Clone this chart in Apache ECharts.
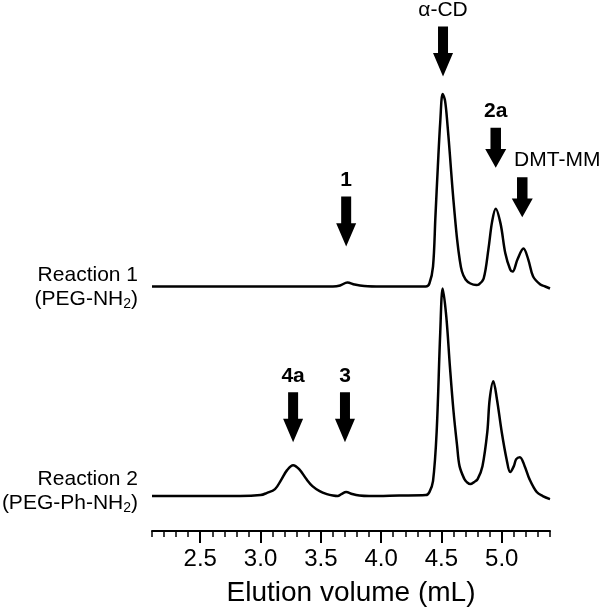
<!DOCTYPE html>
<html>
<head>
<meta charset="utf-8">
<script src="https://cdn.jsdelivr.net/npm/echarts@6/dist/echarts.min.js"></script>
<style>
  html, body { margin: 0; padding: 0; background: #fff; }
  #chart { width: 605px; height: 612px; }
</style>
</head>
<body>
<div id="chart"></div>
<script>
// Reaction 1 (PEG-NH2): elution volume (mL) / detector signal (a.u.)
const reaction1Vol = [2.10, 2.50, 3.00, 3.40, 3.60, 3.66, 3.72, 3.78, 3.86, 4.00, 4.20, 4.37, 4.40, 4.43, 4.45, 4.47, 4.49, 4.51, 4.53, 4.55, 4.57, 4.59, 4.61, 4.63, 4.65, 4.67, 4.70, 4.74, 4.79, 4.81, 4.85, 4.89, 4.92, 4.95, 4.99, 5.03, 5.07, 5.09, 5.13, 5.18, 5.22, 5.26, 5.32, 5.36, 5.40]
const reaction1Sig = [0, 0, 0, 0, 0, 1, 4, 2, 0.5, 0, 0, 0, 3, 20, 70, 120, 165, 193, 186, 162, 132, 100, 72, 47, 28, 15, 7, 3, 1.5, 2, 8, 38, 65, 78, 63, 33, 17, 15, 27, 38, 27, 10, 2, 0, -2]

// Reaction 2 (PEG-Ph-NH2)
const reaction2Vol = [2.10, 2.50, 2.83, 3.00, 3.05, 3.12, 3.17, 3.22, 3.27, 3.32, 3.38, 3.43, 3.49, 3.55, 3.60, 3.64, 3.67, 3.71, 3.76, 3.82, 3.90, 4.15, 4.37, 4.40, 4.43, 4.46, 4.49, 4.51, 4.54, 4.57, 4.60, 4.63, 4.65, 4.69, 4.71, 4.74, 4.77, 4.80, 4.84, 4.88, 4.90, 4.93, 4.96, 5.00, 5.04, 5.07, 5.10, 5.12, 5.15, 5.19, 5.23, 5.29, 5.34, 5.40]
const reaction2Sig = [0, 0, 0, 1, 3, 7, 16, 26, 31, 27, 17, 10, 5, 2, 0.5, 0, 2, 4, 2, 0.5, 0, 0.5, 1, 4, 15, 64, 164, 208, 180, 130, 85, 50, 30, 17, 14, 12, 14, 17, 30, 64, 97, 115, 97, 64, 37, 24, 30, 37, 39, 30, 17, 4, 0, -3]

// vertical offset of each trace (same units as signal)
const reaction1Offset = 245
const reaction2Offset = 35

// peak markers (arrows)
const arrowLabels = ['α-CD', '1', '2a', 'DMT-MM', '4a', '3']
const arrowX = [4.513, 3.71, 4.95, 5.17, 3.27, 3.70]
const arrowY = [480.5, 310, 384, 334.5, 114, 114]

const tickValues = [2.5, 3.0, 3.5, 4.0, 4.5, 5.0]

const fontFamily = '"Liberation Sans", Arial, sans-serif'
const boldLabels = ['1', '2a', '3', '4a']
const shortArrows = ['2a', 'DMT-MM']
const arrowPath = 'path://M5,0 L15,0 L15,26 L20,26 L10,49 L0,26 L5,26 Z'

const toPairs = (xs, ys, off) => xs.map((x, i) => [x, ys[i] + off])

const chart = echarts.init(document.getElementById('chart'))

/* 坐标轴公共设置 */
const baseAxis = {
  type: 'value',
  min: 2.1,
  max: 5.4,
  interval: 0.1,
  position: 'bottom',
  offset: 0,
  splitLine: { show: false }
}

chart.setOption({
  animation: false,
  grid: { left: 152, right: 55, top: 32, bottom: 80 },
  xAxis: [
    {
      ...baseAxis,
      axisLine: { show: true, lineStyle: { color: '#000', width: 2 } },
      axisTick: { show: true, length: 6, lineStyle: { color: '#000', width: 1.5 } },
      axisLabel: { show: false }
    },
    {
      ...baseAxis,
      axisLine: { show: false },
      axisTick: {
        show: true,
        length: 12,
        customValues: tickValues,
        lineStyle: { color: '#000', width: 2 }
      },
      axisLabel: {
        show: true,
        customValues: tickValues,
        margin: 16,
        color: '#000',
        fontSize: 24,
        fontFamily: fontFamily,
        formatter: v => v.toFixed(1)
      },
      name: 'Elution volume (mL)',
      nameLocation: 'middle',
      nameGap: 48,
      nameTextStyle: { color: '#000', fontSize: 28, fontFamily: fontFamily }
    }
  ],
  yAxis: { type: 'value', min: 0, max: 500, show: false },
  series: [
    {
      name: 'Reaction 1',
      type: 'line',
      smooth: 0.35,
      showSymbol: false,
      lineStyle: { color: '#000', width: 2.5 },
      data: toPairs(reaction1Vol, reaction1Sig, reaction1Offset)
    },
    {
      name: 'Reaction 2',
      type: 'line',
      smooth: 0.35,
      showSymbol: false,
      lineStyle: { color: '#000', width: 2.5 },
      data: toPairs(reaction2Vol, reaction2Sig, reaction2Offset)
    },
    {
      name: 'arrows',
      type: 'scatter',
      z: 5,
      clip: false,
      symbol: arrowPath,
      itemStyle: { color: '#000', opacity: 1 },
      emphasis: { disabled: true },
      data: arrowLabels.map((name, i) => ({
        name: name,
        value: [arrowX[i], arrowY[i]],
        symbolSize: shortArrows.includes(name) ? [21, 40] : [20, 50],
        label: {
          show: true,
          position: 'top',
          distance: 6,
          offset: name === 'DMT-MM' ? [35, 0] : [0, 0],
          formatter: '{b}',
          color: '#000',
          opacity: 1,
          fontSize: 21,
          fontFamily: fontFamily,
          fontWeight: boldLabels.includes(name) ? 'bold' : 'normal'
        }
      }))
    }
  ],
  /* 左侧反应名称 */
  graphic: [
    {
      type: 'text',
      x: 138,
      y: 287,
      style: {
        text: '{a|Reaction 1}\n{a|(PEG-NH}{s|2}{a|)}',
        align: 'right',
        verticalAlign: 'middle',
        fill: '#000',
        rich: {
          a: { fontSize: 21, fontFamily: fontFamily, lineHeight: 24 },
          s: { fontSize: 14, fontFamily: fontFamily, lineHeight: 24, verticalAlign: 'bottom' }
        }
      }
    },
    {
      type: 'text',
      x: 138,
      y: 491,
      style: {
        text: '{a|Reaction 2}\n{a|(PEG-Ph-NH}{s|2}{a|)}',
        align: 'right',
        verticalAlign: 'middle',
        fill: '#000',
        rich: {
          a: { fontSize: 21, fontFamily: fontFamily, lineHeight: 24 },
          s: { fontSize: 14, fontFamily: fontFamily, lineHeight: 24, verticalAlign: 'bottom' }
        }
      }
    }
  ]
})
</script>
</body>
</html>
